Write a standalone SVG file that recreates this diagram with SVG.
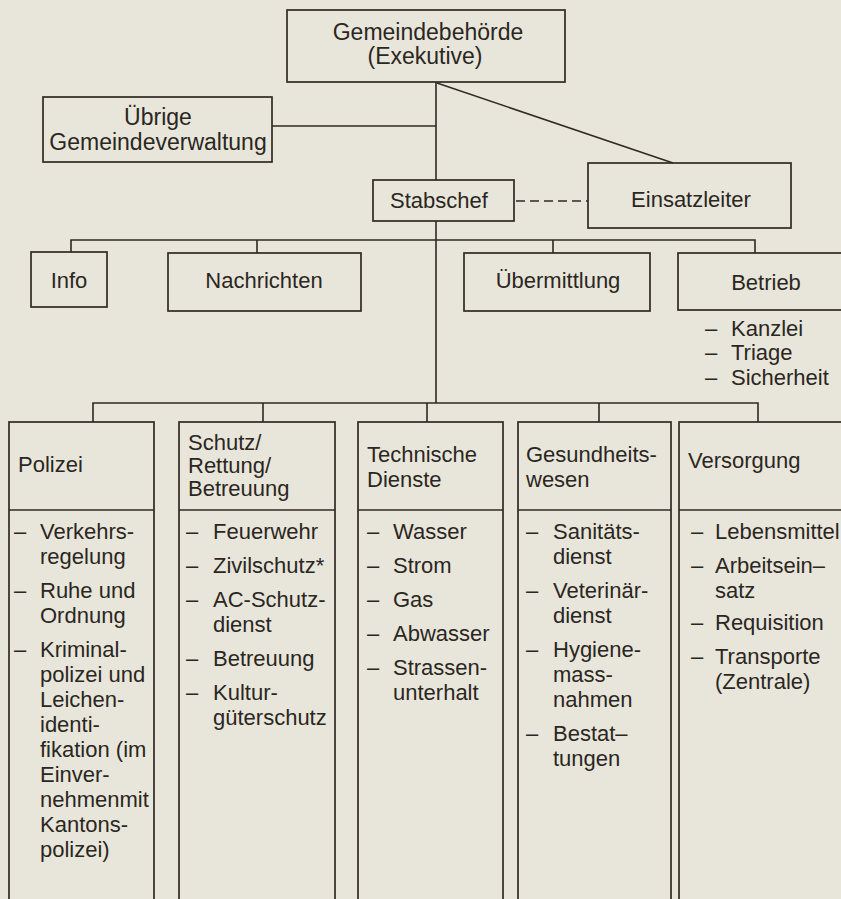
<svg xmlns="http://www.w3.org/2000/svg" width="841" height="899" viewBox="0 0 841 899">
<style>
.bx{fill:none;stroke:#2f2924;stroke-width:1.7}
.ln{fill:none;stroke:#2f2924;stroke-width:1.6}
.dash{stroke-dasharray:9 5}
text{font-family:"Liberation Sans",Arial,sans-serif;font-size:22px;fill:#2b2622}
.big{font-size:23px}
.c{text-anchor:middle}
</style>
<rect x="0" y="0" width="841" height="899" fill="#e8e6da"/>
<g id="connectors">
<line class="ln" x1="436" y1="82" x2="436" y2="180"/>
<line class="ln" x1="436" y1="221" x2="436" y2="403"/>
<line class="ln" x1="272" y1="126" x2="436" y2="126"/>
<line class="ln" x1="437" y1="83" x2="673" y2="163"/>
<line class="ln dash" x1="516" y1="201" x2="588" y2="201"/>
<polyline class="ln" points="71,252 71,240 755,240 755,253"/>
<line class="ln" x1="257" y1="240" x2="257" y2="253"/>
<line class="ln" x1="553" y1="240" x2="553" y2="253"/>
<polyline class="ln" points="93,422 93,403 758,403 758,422"/>
<line class="ln" x1="263" y1="403" x2="263" y2="422"/>
<line class="ln" x1="427" y1="403" x2="427" y2="422"/>
<line class="ln" x1="599" y1="403" x2="599" y2="422"/>
</g>
<g id="gemeindebehoerde">
<rect class="bx" x="287" y="10" width="278" height="72"/>
<text class="c big" x="428" y="40">Gemeindebehörde</text>
<text class="c big" x="425" y="64">(Exekutive)</text>
</g>
<g id="uebrige">
<rect class="bx" x="43" y="97" width="229" height="65"/>
<text class="c big" x="158" y="125">Übrige</text>
<text class="c big" x="158" y="150">Gemeindeverwaltung</text>
</g>
<g id="stabschef">
<rect class="bx" x="373" y="180" width="141" height="41"/>
<text class="c" x="439" y="208">Stabschef</text>
</g>
<g id="einsatzleiter">
<rect class="bx" x="588" y="163" width="203" height="65"/>
<text class="c" x="691" y="207">Einsatzleiter</text>
</g>
<g id="info">
<rect class="bx" x="31" y="252" width="76" height="55"/>
<text class="c" x="69" y="288">Info</text>
</g>
<g id="nachrichten">
<rect class="bx" x="168" y="253" width="193" height="58"/>
<text class="c" x="264" y="288">Nachrichten</text>
</g>
<g id="uebermittlung">
<rect class="bx" x="464" y="253" width="186" height="58"/>
<text class="c" x="558" y="288">Übermittlung</text>
</g>
<g id="betrieb">
<rect class="bx" x="678" y="253" width="200" height="57"/>
<text class="c" x="766" y="290">Betrieb</text>
<text x="705" y="336">–</text><text x="731" y="336">Kanzlei</text>
<text x="705" y="360">–</text><text x="731" y="360">Triage</text>
<text x="705" y="385">–</text><text x="731" y="385">Sicherheit</text>
</g>
<g id="polizei">
<rect class="bx" x="9" y="422" width="145" height="500"/>
<line class="ln" x1="9" y1="510" x2="154" y2="510"/>
<text x="18" y="472">Polizei</text>
<text x="14" y="539">–</text><text x="40" y="539">Verkehrs-</text>
<text x="40" y="564">regelung</text>
<text x="14" y="598">–</text><text x="40" y="598">Ruhe und</text>
<text x="40" y="623">Ordnung</text>
<text x="14" y="657">–</text><text x="40" y="657">Kriminal-</text>
<text x="40" y="682">polizei und</text>
<text x="40" y="707">Leichen-</text>
<text x="40" y="732">identi-</text>
<text x="40" y="757">fikation (im</text>
<text x="40" y="782">Einver-</text>
<text x="40" y="807">nehmenmit</text>
<text x="40" y="832">Kantons-</text>
<text x="40" y="857">polizei)</text>
</g>
<g id="schutz">
<rect class="bx" x="179" y="422" width="156" height="500"/>
<line class="ln" x1="179" y1="510" x2="335" y2="510"/>
<text x="188" y="450">Schutz/</text>
<text x="188" y="473">Rettung/</text>
<text x="188" y="496">Betreuung</text>
<text x="186" y="539">–</text><text x="213" y="539">Feuerwehr</text>
<text x="186" y="573">–</text><text x="213" y="573">Zivilschutz*</text>
<text x="186" y="607">–</text><text x="213" y="607">AC-Schutz-</text>
<text x="213" y="632">dienst</text>
<text x="186" y="666">–</text><text x="213" y="666">Betreuung</text>
<text x="186" y="700">–</text><text x="213" y="700">Kultur-</text>
<text x="213" y="725">güterschutz</text>
</g>
<g id="technische">
<rect class="bx" x="358" y="422" width="145" height="500"/>
<line class="ln" x1="358" y1="510" x2="503" y2="510"/>
<text x="367" y="462">Technische</text>
<text x="367" y="487">Dienste</text>
<text x="367" y="539">–</text><text x="393" y="539">Wasser</text>
<text x="367" y="573">–</text><text x="393" y="573">Strom</text>
<text x="367" y="607">–</text><text x="393" y="607">Gas</text>
<text x="367" y="641">–</text><text x="393" y="641">Abwasser</text>
<text x="367" y="675">–</text><text x="393" y="675">Strassen-</text>
<text x="393" y="700">unterhalt</text>
</g>
<g id="gesundheit">
<rect class="bx" x="518" y="422" width="153" height="500"/>
<line class="ln" x1="518" y1="510" x2="671" y2="510"/>
<text x="526" y="462">Gesundheits-</text>
<text x="526" y="487">wesen</text>
<text x="526" y="539">–</text><text x="553" y="539">Sanitäts-</text>
<text x="553" y="564">dienst</text>
<text x="526" y="598">–</text><text x="553" y="598">Veterinär-</text>
<text x="553" y="623">dienst</text>
<text x="526" y="657">–</text><text x="553" y="657">Hygiene-</text>
<text x="553" y="682">mass-</text>
<text x="553" y="707">nahmen</text>
<text x="526" y="741">–</text><text x="553" y="741">Bestat–</text>
<text x="553" y="766">tungen</text>
</g>
<g id="versorgung">
<rect class="bx" x="679" y="422" width="200" height="500"/>
<line class="ln" x1="679" y1="510" x2="879" y2="510"/>
<text x="688" y="468">Versorgung</text>
<text x="691" y="539">–</text><text x="715" y="539">Lebensmittel</text>
<text x="691" y="573">–</text><text x="715" y="573">Arbeitsein–</text>
<text x="715" y="598">satz</text>
<text x="691" y="630">–</text><text x="715" y="630">Requisition</text>
<text x="691" y="664">–</text><text x="715" y="664">Transporte</text>
<text x="715" y="689">(Zentrale)</text>
</g>
</svg>
